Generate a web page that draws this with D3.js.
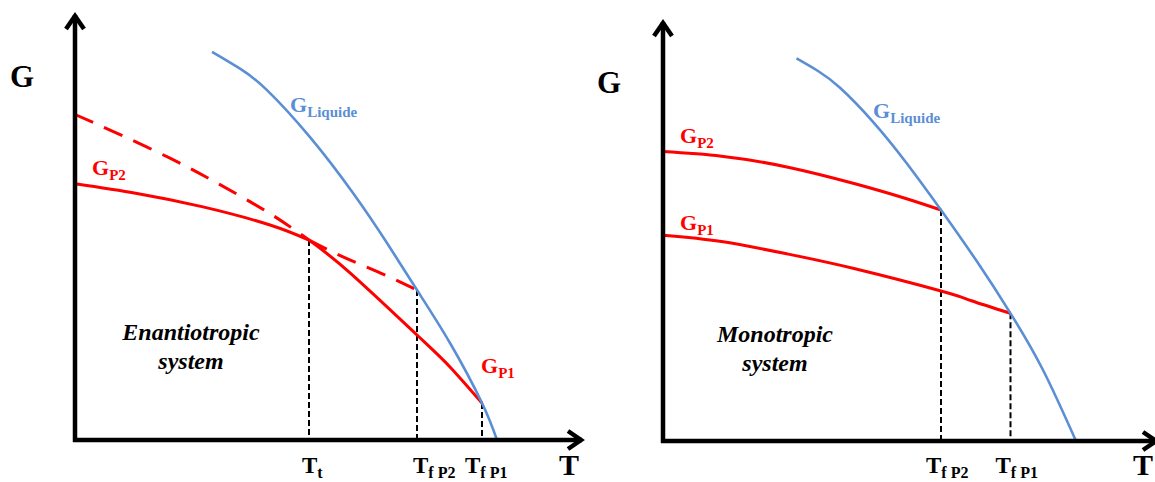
<!DOCTYPE html>
<html>
<head>
<meta charset="utf-8">
<script src="https://cdn.jsdelivr.net/npm/d3@7"></script>
<style>
  body { margin: 0; background: #fff; }
  svg { display: block; }
  text { font-family: "Liberation Serif", "Times New Roman", serif; font-weight: bold; }
</style>
</head>
<body>
<svg id="chart" width="1155" height="482"></svg>
<script>
// ---- Enantiotropic system: [T, G] pairs (arbitrary units) ----
const enanLiquid = [[27.4, 92.4], [33, 88.4], [38.4, 83.3], [47, 72.1], [55.6, 58.8], [62.4, 46.9], [68.4, 35.7], [75, 23.1], [81.4, 8.8], [84.4, 0]];
const enanP2 = [[0, 61.0], [12.4, 58.7], [25.6, 55.5], [39, 51.2], [46.8, 47.6], [53.6, 43.6], [61, 39.8], [68.4, 35.7]];
const enanP1 = [[0, 77.5], [7, 73.8], [19, 67.1], [29, 60.8], [39, 53.9], [46.8, 47.6], [55, 39.8], [68.4, 25.0], [75, 17.4], [81.4, 8.8]];
const enanTickT = [46.8, 68.4, 81.4];
const enanTickG = [47.6, 35.7, 8.8];
const enanTickSub = ["t", "f P2", "f P1"];
const enanTransitionT = 46.8;

// ---- Monotropic system ----
const monoLiquid = [[26.7, 91.1], [31, 88.1], [35.4, 84.1], [42, 76.0], [48.7, 66.2], [55.6, 55.0], [62.7, 42.9], [69.5, 30.4], [76, 16.9], [82.6, 0]];
const monoP2 = [[0, 68.9], [11.7, 67.8], [25, 65.2], [38.4, 61.25], [48.4, 57.8], [55.6, 55.0]];
const monoP1 = [[0, 49.0], [11.7, 47.5], [25, 44.5], [38.4, 41.0], [55.6, 35.7], [61.7, 33.4], [69.5, 30.4]];
const monoTickT = [55.6, 69.5];
const monoTickG = [55.0, 30.4];
const monoTickSub = ["f P2", "f P1"];

const RED = "#ff0000";
const BLUE = "#5b8fd5";

const svg = d3.select("#chart");
svg.append("rect").attr("width", 1155).attr("height", 482).attr("fill", "#fff");

// label with a subscript, baseline at (x, y)
function subLabel(g, x, y, main, sub, color, mainSize, subSize) {
  const t = g.append("text").attr("x", x).attr("y", y).attr("fill", color)
    .style("font-size", mainSize + "px");
  t.append("tspan").text(main);
  t.append("tspan").attr("dy", 5).style("font-size", subSize + "px").text(sub);
  return t;
}

function drawAxes(g, ox, oy, xEnd, yEnd) {
  const ax = g.append("g").attr("stroke", "#000").attr("fill", "none")
    .attr("stroke-width", 4.5).attr("stroke-linejoin", "miter");
  ax.append("path").attr("d", `M${ox},${oy + 2}V${yEnd}`);
  ax.append("path").attr("d", `M${ox - 2},${oy}H${xEnd}`);
  ax.append("path").attr("d", `M${ox - 9},${yEnd + 14}L${ox},${yEnd + 1}L${ox + 9},${yEnd + 14}`);
  ax.append("path").attr("d", `M${xEnd - 14},${oy - 9}L${xEnd - 1},${oy}L${xEnd - 14},${oy + 9}`);
}

function panel(cfg) {
  const g = svg.append("g");
  const x = d3.scaleLinear().domain([0, 100]).range([cfg.ox, cfg.ox + 500]);
  const y = d3.scaleLinear().domain([0, 100]).range([cfg.oy, cfg.oy - 420]);
  const line = d3.line().x(d => x(d[0])).y(d => y(d[1])).curve(d3.curveNatural);

  // drop lines from the melting / transition points
  g.append("g").selectAll("line").data(cfg.tickT).join("line")
    .attr("x1", d => x(d)).attr("x2", d => x(d))
    .attr("y1", (d, i) => y(cfg.tickG[i])).attr("y2", y(0))
    .attr("stroke", "#000").attr("stroke-width", 2).attr("stroke-dasharray", "6,3");

  // solid-phase curves
  cfg.solid.forEach(seg => {
    g.append("path").datum(seg.data).attr("d", line)
      .attr("fill", "none").attr("stroke", RED).attr("stroke-width", 3)
      .attr("stroke-dasharray", seg.dashed ? "20,12" : null);
  });

  // liquid curve
  g.append("path").datum(cfg.liquid).attr("d", line)
    .attr("fill", "none").attr("stroke", BLUE).attr("stroke-width", 2.6);

  drawAxes(g, cfg.ox, cfg.oy, cfg.xEnd, cfg.yEnd);

  // axis titles
  g.append("text").attr("x", cfg.gTitle[0]).attr("y", cfg.gTitle[1]).style("font-size", "31px").text("G");
  g.append("text").attr("x", cfg.tTitle[0]).attr("y", cfg.tTitle[1]).style("font-size", "30px").text("T");

  // tick labels
  cfg.tickT.forEach((t, i) => {
    subLabel(g, x(t) + cfg.tickOffset[i], 473, "T", cfg.tickSub[i], "#000", 23, 16);
  });

  // curve labels
  cfg.curveLabels.forEach(l => subLabel(g, l.at[0], l.at[1], "G", l.sub, l.color, 22, 15));

  // caption
  const cap = g.append("text").attr("text-anchor", "middle").style("font-size", "24px").style("font-style", "italic");
  cap.append("tspan").attr("x", cfg.caption.x).attr("y", cfg.caption.y).text(cfg.caption.lines[0]);
  cap.append("tspan").attr("x", cfg.caption.x).attr("y", cfg.caption.y + 29).text(cfg.caption.lines[1]);
}

panel({
  ox: 75, oy: 440, xEnd: 582, yEnd: 15,
  liquid: enanLiquid,
  solid: [
    { data: enanP2.filter(d => d[0] <= enanTransitionT), dashed: false },
    { data: enanP2.filter(d => d[0] >= enanTransitionT), dashed: true },
    { data: enanP1.filter(d => d[0] <= enanTransitionT), dashed: true },
    { data: enanP1.filter(d => d[0] >= enanTransitionT), dashed: false }
  ],
  tickT: enanTickT, tickG: enanTickG, tickSub: enanTickSub, tickOffset: [-7, -4, -17],
  gTitle: [10, 87], tTitle: [559, 475],
  curveLabels: [
    { at: [290, 112], sub: "Liquide", color: BLUE },
    { at: [92, 175], sub: "P2", color: RED },
    { at: [481, 373], sub: "P1", color: RED }
  ],
  caption: { x: 191, y: 340, lines: ["Enantiotropic", "system"] }
});

panel({
  ox: 663, oy: 441, xEnd: 1157, yEnd: 22,
  liquid: monoLiquid,
  solid: [
    { data: monoP2, dashed: false },
    { data: monoP1, dashed: false }
  ],
  tickT: monoTickT, tickG: monoTickG, tickSub: monoTickSub, tickOffset: [-15, -15],
  gTitle: [597, 93], tTitle: [1133, 475],
  curveLabels: [
    { at: [873, 118], sub: "Liquide", color: BLUE },
    { at: [680, 143], sub: "P2", color: RED },
    { at: [680, 230], sub: "P1", color: RED }
  ],
  caption: { x: 775, y: 342, lines: ["Monotropic", "system"] }
});
</script>
</body>
</html>
